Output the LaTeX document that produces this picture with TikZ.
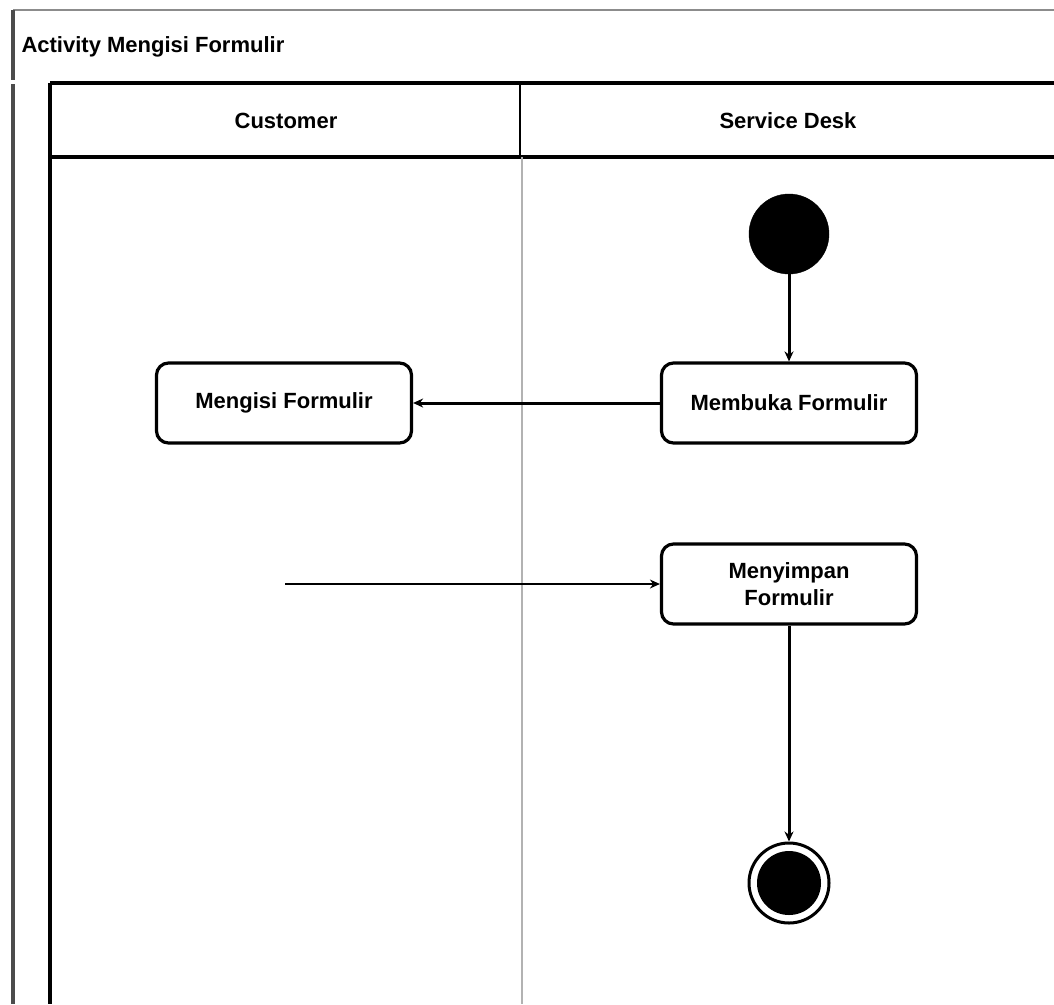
\documentclass[tikz,border=0pt]{standalone}
\usepackage{fontspec}
\setmainfont{Liberation Sans}
\usetikzlibrary{arrows.meta}
\begin{document}
\begin{tikzpicture}[x=1pt,y=-1pt,
  act/.style={draw=black,line width=3.2pt,rounded corners=12pt,minimum width=255pt,minimum height=80pt,align=center,font=\fontsize{22}{27}\selectfont\bfseries},
  lbl/.style={font=\fontsize{22}{27}\selectfont\bfseries},
  flow/.style={line width=3pt,-{Stealth[length=10pt,width=9pt]}},
  frame/.style={draw=black!70,line width=1.5pt},
  lanebd/.style={line width=3.5pt}]
\useasboundingbox (0,0) rectangle (1054,1004);
% outer frame
\draw[draw=black!45,line width=1.5pt] (13,10) -- (1054,10);
\draw[frame,line width=3.5pt] (13,10) -- (13,80);
\draw[frame,line width=3.5pt] (13,84) -- (13,1004);
\node[lbl,anchor=west] (title) at (18,47) {Activity Mengisi Formulir};
% swimlanes
\draw[lanebd,draw=black] (50,83) -- (1054,83);
\draw[lanebd,draw=black] (50,157) -- (1054,157);
\draw[lanebd,draw=black] (50,83) -- (50,1004);
\draw[line width=1.5pt,draw=black] (520,83) -- (520,157);
\draw[line width=1.2pt,draw=black!30] (522,157) -- (522,1004);
\node[lbl] (lane1) at (286,121) {Customer};
\node[lbl] (lane2) at (788,121) {Service Desk};
% nodes
\node[circle,fill=black,draw=black,minimum size=80pt,inner sep=0pt] (start) at (789,234) {};
\node[act] (isi) at (284,403) {Mengisi Formulir};
\node[act] (buka) at (789,403) {Membuka Formulir};
\node[act] (simpan) at (789,584) {Menyimpan\\Formulir};
\node[circle,draw=black,line width=3pt,minimum size=80pt,inner sep=0pt] (end) at (789,883) {};
\node[circle,fill=black,minimum size=64pt,inner sep=0pt] (endin) at (end.center) {};
\coordinate (free) at (285,584);
% edges
\draw[flow] (start) -- (buka);
\draw[flow] (buka) -- (isi);
\draw[flow,line width=2.2pt] (free) -- (simpan);
\draw[flow] (simpan) -- (end);
\end{tikzpicture}
\end{document}
